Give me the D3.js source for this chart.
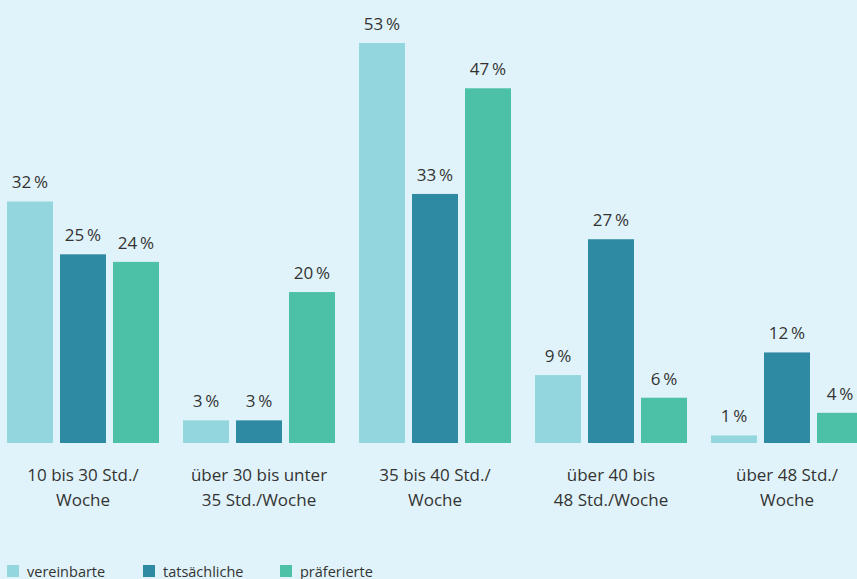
<!DOCTYPE html>
<html><head><meta charset="utf-8">
<script src="https://cdn.jsdelivr.net/npm/d3@7"></script>
<style>body{margin:0;background:#e1f3fa;}svg{display:block;}</style>
</head><body><svg id="c" width="857" height="579"></svg>
<script>
const categories = [["10 bis 30 Std./","Woche"],["über 30 bis unter","35 Std./Woche"],["35 bis 40 Std./","Woche"],["über 40 bis","48 Std./Woche"],["über 48 Std./","Woche"]];
const seriesNames = ["vereinbarte","tatsächliche","präferierte"];
const vereinbarte = [32,3,53,9,1];
const tatsaechliche = [25,3,33,27,12];
const praeferierte = [24,20,47,6,4];
const colors = ["#93d6dd","#2e8aa3","#4cc1a8"];
const seriesValues = [vereinbarte, tatsaechliche, praeferierte];

const svg = d3.select("#c");
svg.append("rect").attr("width",857).attr("height",579).attr("fill","#e1f3fa");
const font = "'Open Sans', 'Noto Sans', sans-serif";
const x0 = d3.scaleBand().domain(d3.range(categories.length)).range([-5, 875]).padding(0);
const x1 = d3.scaleBand().domain(seriesNames).range([12, 164]).paddingInner(7/53).paddingOuter(0);
const y = d3.scaleLinear().domain([0, 53]).range([443, 43]);

const g = svg.append("g");
categories.forEach((cat, i) => {
  const gg = g.append("g").attr("transform", `translate(${x0(i)},0)`);
  seriesNames.forEach((s, j) => {
    const v = seriesValues[j][i];
    gg.append("rect").attr("x", x1(s)).attr("width", x1.bandwidth())
      .attr("y", y(v)).attr("height", y(0) - y(v)).attr("fill", colors[j]);
    gg.append("text").attr("x", x1(s) + x1.bandwidth()/2).attr("y", y(v) - 13)
      .attr("text-anchor","middle").attr("font-family", font).attr("font-size", 17)
      .attr("fill","#333").text(v + "\u2009%");
  });
  const t = gg.append("text").attr("text-anchor","middle").attr("font-family", font)
    .attr("font-size", 17).attr("fill","#333");
  cat.forEach((line, k) => {
    t.append("tspan").attr("x", x0.bandwidth()/2).attr("y", 481 + k*25).text(line);
  });
});

const legendX = [7, 143, 280];
seriesNames.forEach((s, j) => {
  svg.append("rect").attr("x", legendX[j]).attr("y", 565).attr("width", 12).attr("height", 12).attr("fill", colors[j]);
  svg.append("text").attr("x", legendX[j] + 20).attr("y", 577).attr("font-family", font)
    .attr("font-size", 14.5).attr("fill","#333").text(s);
});
</script></body></html>
